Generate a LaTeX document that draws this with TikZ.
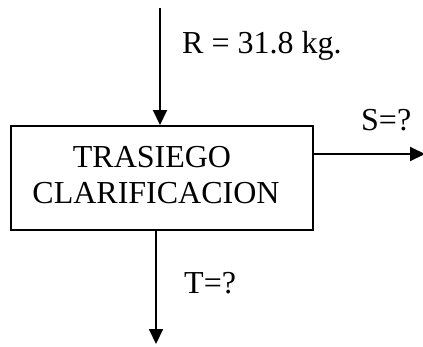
\documentclass[tikz,border=0pt]{standalone}
\usepackage{fontspec}
\setmainfont{Liberation Serif}
\usetikzlibrary{arrows.meta}
\begin{document}
\begin{tikzpicture}[x=1pt,y=-1pt,
  flow/.style={line width=2pt,-{Triangle[width=14pt,length=15pt]}},
  unit/.style={draw,line width=2pt,minimum width=302pt,minimum height=104pt,inner sep=0pt},
  lbl/.style={anchor=base west,inner sep=0pt,font=\fontsize{32}{37}\selectfont},
  txt/.style={anchor=base,inner sep=0pt,font=\fontsize{32}{37}\selectfont}]
\useasboundingbox (0,0) rectangle (423,346);
% process block
\node[unit] (box) at (162,178) {};
\node[txt] (t1) at (152,167) {TRASIEGO};
\node[txt] (t2) at (156,203) {CLARIFICACION};
% stream end points
\coordinate (rin) at (160,8);
\coordinate (sout) at (425,154);
\coordinate (tout) at (156,344);
% streams
\draw[flow] (rin) -- (rin |- box.north);
\draw[flow] (sout -| box.east) -- (sout);
\draw[flow] (tout |- box.south) -- (tout);
% stream labels
\node[lbl] (r) at (182,53) {R = 31.8 kg.};
\node[lbl] (s) at (361,130) {S=?};
\node[lbl] (t) at (184,293) {T=?};
\end{tikzpicture}
\end{document}
